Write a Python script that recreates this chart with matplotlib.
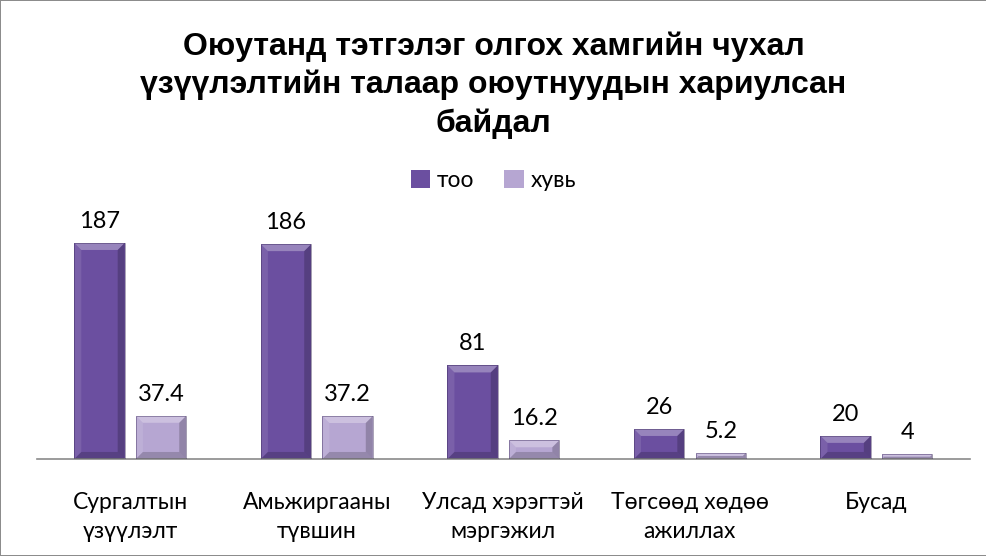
import numpy as np
import matplotlib.pyplot as plt
from matplotlib.patches import Polygon, Rectangle

categories = ["Сургалтын\nүзүүлэлт", "Амьжиргааны\nтүвшин", "Улсад хэрэгтэй\nмэргэжил",
              "Төгсөөд хөдөө\nажиллах", "Бусад"]
too = [187, 186, 81, 26, 20]
huvi = [37.4, 37.2, 16.2, 5.2, 4]
too_labels = ["187", "186", "81", "26", "20"]
huvi_labels = ["37.4", "37.2", "16.2", "5.2", "4"]

plt.rcParams['font.family'] = ['Lato', 'Open Sans', 'DejaVu Sans']

fig = plt.figure(figsize=(9.87, 5.56), dpi=100)
fig.patch.set_edgecolor('#8c8c8c')
fig.patch.set_linewidth(1.2)
ax = fig.add_axes([0.0375, 0.1745, 0.945, 0.4155])

x = np.arange(len(categories))
w = 0.27
b1 = ax.bar(x - 0.165, too, w, color='#6b4fa0', label='тоо', zorder=2)
b2 = ax.bar(x + 0.165, huvi, w, color='#b6a6d2', label='хувь', zorder=2)

ax.set_xlim(-0.5, len(categories) - 0.5)
ax.set_ylim(0, 200)
ax.set_yticks([])
for s in ['top', 'right', 'left']:
    ax.spines[s].set_visible(False)
ax.spines['bottom'].set_color('#8a8a8a')
ax.spines['bottom'].set_linewidth(1.2)
ax.set_xticks(x)
ax.set_xticklabels(categories, fontsize=16.5, linespacing=1.45)
ax.tick_params(axis='x', length=0, pad=24)

fig.canvas.draw()


def bevel(bars):
    # fake Excel-style bevel on each bar, drawn in pixels
    inv = ax.transData.inverted()
    for p in bars:
        bb = p.get_window_extent()
        x0, y0, x1, y1 = bb.x0, bb.y0, bb.x1, bb.y1
        d = min(7, (y1 - y0) / 2)
        faces = [
            ([(x0, y1), (x1, y1), (x1 - d, y1 - d), (x0 + d, y1 - d)], 0.3, 'w'),
            ([(x0, y0), (x0, y1), (x0 + d, y1 - d), (x0 + d, y0 + d)], 0.1, 'w'),
            ([(x1, y0), (x1, y1), (x1 - d, y1 - d), (x1 - d, y0 + d)], 0.2, 'k'),
            ([(x0, y0), (x1, y0), (x1 - d, y0 + d), (x0 + d, y0 + d)], 0.18, 'k'),
        ]
        for pts, a, c in faces:
            ax.add_patch(Polygon(inv.transform(pts), closed=True, facecolor=c,
                                 alpha=a, lw=0, zorder=3))
        ax.add_patch(Rectangle(p.get_xy(), p.get_width(), p.get_height(),
                               fill=False, edgecolor='#3a2a5a', lw=0.6, alpha=0.5,
                               zorder=4))


bevel(b1)
bevel(b2)

for bars, labs in [(b1, too_labels), (b2, huvi_labels)]:
    for p, t in zip(bars, labs):
        ax.annotate(t, (p.get_x() + p.get_width() / 2, p.get_height()),
                    xytext=(0, 15.5), textcoords='offset points', ha='center',
                    va='center', fontsize=17)

fig.text(0.5, 0.847, "Оюутанд тэтгэлэг олгох хамгийн чухал\nүзүүлэлтийн талаар оюутнуудын хариулсан\nбайдал",
         ha='center', va='center', fontsize=23, fontweight='bold',
         family=['Liberation Sans', 'DejaVu Sans'], linespacing=1.33)

fig.legend(handles=[b1, b2], labels=['тоо', 'хувь'], loc='center',
           bbox_to_anchor=(0.5, 0.676), ncol=2, frameon=False, fontsize=16.5,
           handlelength=0.85, handleheight=0.85, handletextpad=0.3, columnspacing=1.3)

fig.savefig('out.png', dpi=100)
